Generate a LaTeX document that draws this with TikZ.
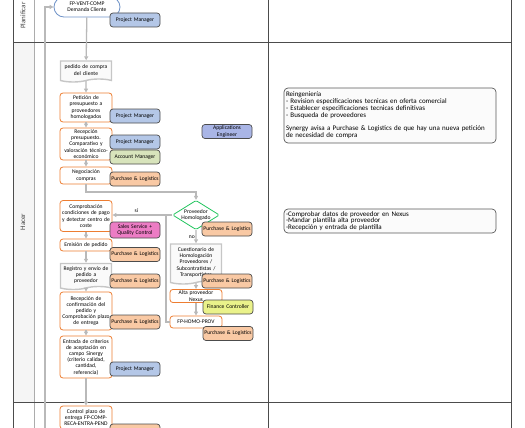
\documentclass[tikz,border=0pt]{standalone}
\usepackage{fontspec}
\setmainfont{Carlito}
\usepackage{tikz}
\usetikzlibrary{arrows.meta, positioning, shapes.geometric, shapes.misc, shapes.symbols, calc}

\definecolor{taskorange}{HTML}{ED7D31}
\definecolor{startblue}{HTML}{6F93C8}
\definecolor{decgreen}{HTML}{22C55E}
\definecolor{pmblue}{HTML}{B4C7E7}
\definecolor{amgreen}{HTML}{D8E4BC}
\definecolor{plorange}{HTML}{F9C9A4}
\definecolor{sspink}{HTML}{EC7CC4}
\definecolor{fcyellow}{HTML}{EAF28A}
\definecolor{aeblue}{HTML}{A9B5E6}

\begin{document}
\begin{tikzpicture}[
  x=1pt, y=-1pt,
  >={Triangle[length=4pt, width=4pt]},
  txt/.style={font=\fontsize{5.6}{6.2}\selectfont, align=center, inner ysep=1.5pt, inner xsep=0.5pt},
  task/.style={txt, rectangle, rounded corners=3pt, draw=taskorange, line width=0.8pt, fill=white, text width=51pt, minimum height=#1},
  task/.default=12pt,
  doc/.style={txt, tape, tape bend top=none, tape bend height=3pt, draw=gray!45, line width=1.4pt, fill=gray!4, text width=50pt, minimum height=#1},
  role/.style={txt, rounded corners=3pt, draw=black!70, line width=0.7pt, fill=#1, text width=49pt, minimum height=14pt},
  startbox/.style={txt, rounded rectangle, draw=startblue, line width=0.8pt, fill=white, minimum width=67pt, minimum height=20pt},
  decision/.style={txt, diamond, aspect=1.6, inner sep=0pt, rounded corners=1.5pt, draw=decgreen, line width=0.8pt, fill=white, minimum width=46pt, minimum height=28pt},
  note/.style={rounded corners=4pt, draw=gray!70!black, line width=0.7pt, fill=gray!3, font=\fontsize{7}{6.8}\selectfont, align=left, text width=208pt, inner sep=2pt},
  lanelabel/.style={font=\fontsize{7}{8}\selectfont, text=black!75, rotate=90, inner sep=0pt},
  arrow/.style={->, draw=gray!55, line width=1.3pt},
  line/.style={draw=gray!55, line width=1.3pt},
  lane/.style={draw=gray!60!black, line width=0.9pt}
]
\useasboundingbox (0,0) rectangle (525,428);
\clip (0,0) rectangle (525,428);

% swimlanes
\fill[gray!8] (13,42) rectangle (34,402);
\draw[lane] (13,-5) -- (13,440);
\draw[lane, draw=gray!65] (34,-5) -- (34,440);
\draw[lane] (268,-5) -- (268,440);
\draw[lane] (511,-5) -- (511,440);
\draw[lane] (13,42) -- (511,42);
\draw[lane] (13,402) -- (511,402);
\node[lanelabel, anchor=west] (planificar) at (23,29) {Planificar};
\node[lanelabel] (hacer) at (23,222) {Hacer};

% main flow
\node[startbox] (start) at (87,7) {FP-VENT-COMP\\Demanda Cliente};
\node[doc=21pt] (pedido) at (86,70) {pedido de compra\\del cliente};
\node[task=29pt] (peticion) at (86,107.5) {Petición de\\presupuesto a\\proveedores\\homologados};
\node[task=32pt] (recepcion) at (86,144) {Recepción\\presupuesto.\\Comparativo y\\valoración técnico-\\económico};
\node[task=17pt] (negociacion) at (86,175.5) {Negociación\\compras};
\node[decision] (homologado) at (196,215) {Proveedor\\Homologado};
\node[task=31pt] (comprobacion) at (86,216) {Comprobación\\condiciones de pago\\y detectar centro de\\coste};
\node[task=12pt] (emision) at (86,245) {Emisión de pedido};
\node[doc=26pt] (registro) at (86,275) {Registro y envío de\\pedido a\\proveedor};
\node[task=38pt] (confirmacion) at (86,311) {Recepción de\\confirmación del\\pedido y\\Comprobación plazo\\de entrega};
\node[task=42pt] (entrada) at (86,357) {Entrada de criterios\\de aceptación en\\campo Sinergy\\(criterio calidad,\\cantidad,\\referencia)};
\node[task=23pt] (control) at (86,417.5) {Control plazo de\\entrega FP-COMP-\\RECA-ENTRA-PEND};
\node[doc=40pt] (cuestionario) at (196,262.5) {Cuestionario de\\Homologación\\Proveedores /\\Subcontratistas /\\Transportistas};
\node[task=13pt] (alta) at (196,296) {Alta proveedor\\Nexus};
\node[task=12pt] (homoprov) at (196,322) {FP-HOMO-PROV};

% roles
\node[role=pmblue] (pmA) at (135,20) {Project Manager};
\node[role=pmblue] (pmB) at (135,116) {Project Manager};
\node[role=pmblue] (pmC) at (135,142) {Project Manager};
\node[role=amgreen] (amA) at (135,157) {Account Manager};
\node[role=aeblue] (aeA) at (227,131.5) {Applications\\Engineer};
\node[role=plorange] (plA) at (135,179) {Purchase \& Logistics};
\node[role=plorange] (plB) at (227,229) {Purchase \& Logistics};
\node[role=sspink, minimum height=16pt] (ssA) at (135,230) {Sales Service +\\Quality Control};
\node[role=plorange] (plC) at (135,254.5) {Purchase \& Logistics};
\node[role=plorange] (plD) at (135,281) {Purchase \& Logistics};
\node[role=plorange] (plE) at (227,281) {Purchase \& Logistics};
\node[role=fcyellow] (fcA) at (228,307) {Finance Controller};
\node[role=plorange] (plF) at (135,322) {Purchase \& Logistics};
\node[role=plorange] (plG) at (228,333.5) {Purchase \& Logistics};
\node[role=pmblue] (pmD) at (135,369) {Project Manager};
\node[role=plorange] (plH) at (135,431) {};

% notes
\node[note, minimum height=55pt] (reing) at (390,115.5) {Reingeniería\\
- Revision especificaciones tecnicas en oferta comercial\\
- Establecer especificaciones tecnicas definitivas\\
- Busqueda de proveedores\\[6.8pt]
Synergy avisa a Purchase \& Logistics de que hay una nueva petición\\
de necesidad de compra};
\node[note, minimum height=24pt] (nexus) at (390,221) {-Comprobar datos de proveedor en Nexus\\
-Mandar plantilla alta proveedor\\
-Recepción y entrada de plantilla};

% connectors
\coordinate (back) at (45,440);
\coordinate (split) at (196,192);
\coordinate (rejoin) at (166,216);
\draw[arrow] (back) |- (start);
\draw[arrow] (start) -- (pedido);
\draw[arrow] (pedido) -- (peticion);
\draw[arrow] (peticion) -- (recepcion);
\draw[arrow] (recepcion) -- (negociacion);
\draw[arrow] (negociacion) |- (split) -- (homologado);
\draw[arrow] (homologado.west) -- node[txt, above, pos=0.6]{sí} (comprobacion.east |- homologado.west);
\draw[arrow] (homologado) -- node[txt, left]{no} (cuestionario);
\draw[arrow] (cuestionario) -- (alta);
\draw[arrow] (alta) -- (homoprov);
\draw[line] (homoprov) -| (rejoin);
\draw[arrow] (comprobacion) -- (emision);
\draw[arrow] (emision) -- (registro);
\draw[arrow] (registro) -- (confirmacion);
\draw[arrow] (confirmacion) -- (entrada);
\draw[arrow] (entrada) -- (control);

\end{tikzpicture}
\end{document}
